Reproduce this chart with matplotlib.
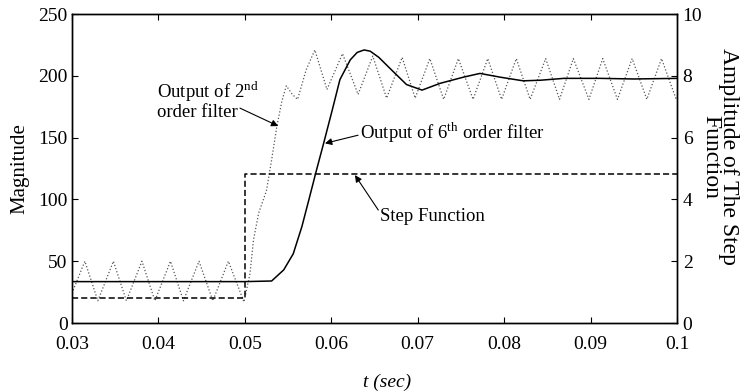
import matplotlib.pyplot as plt
import matplotlib

matplotlib.rcParams['font.family'] = 'Liberation Serif'
matplotlib.rcParams['mathtext.fontset'] = 'custom'
matplotlib.rcParams['mathtext.rm'] = 'Liberation Serif'
matplotlib.rcParams['font.size'] = 13.5

# output of 2nd order filter (dotted)
t2 = [0.0300, 0.0315, 0.0330, 0.0348, 0.0363, 0.0381, 0.0396, 0.0414, 0.0429,
      0.0447, 0.0463, 0.0481, 0.0499, 0.0506, 0.0510, 0.0516, 0.0520, 0.0525,
      0.0531, 0.0537, 0.0543, 0.0548, 0.0555, 0.0561, 0.0571, 0.0581, 0.0595,
      0.0613, 0.0631, 0.0648, 0.0664, 0.0682, 0.0697, 0.0714, 0.0730, 0.0747,
      0.0764, 0.0781, 0.0797, 0.0814, 0.0830, 0.0848, 0.0864, 0.0880, 0.0898,
      0.0914, 0.0931, 0.0948, 0.0965, 0.0982, 0.0999, 0.1000]
y2 = [24, 50, 18, 50, 18, 50, 18, 50, 18,
      50, 18, 50, 17, 40, 67, 89, 97, 107,
      132, 159, 180, 192, 185, 181, 205, 221, 189,
      218, 185, 216, 182, 215, 182, 214, 181, 214,
      181, 214, 181, 214, 181, 214, 181, 214, 181,
      214, 181, 214, 181, 214, 181, 182]

# output of 6th order filter (solid)
t6 = [0.0300, 0.0400, 0.0500, 0.0531, 0.0545, 0.0556, 0.0566, 0.0574, 0.0583,
      0.0591, 0.0601, 0.0610, 0.0622, 0.0630, 0.0638, 0.0645, 0.0655, 0.0668,
      0.0687, 0.0705, 0.0726, 0.0753, 0.0772, 0.0795, 0.0822, 0.0842, 0.0869,
      0.0911, 0.0950, 0.1000]
y6 = [33.5, 33.5, 33.5, 34, 43, 56, 78, 99.5, 124,
      145, 172, 197, 213, 219, 221, 220, 215, 206,
      193, 188.5, 194, 199, 202, 199, 196, 196.5, 198,
      198, 197.5, 198]

# step function (right axis)
t_step = [0.03, 0.05, 0.05, 0.1]
y_step = [0.8, 0.8, 4.82, 4.82]

xticks = [0.03, 0.04, 0.05, 0.06, 0.07, 0.08, 0.09, 0.1]
xticklabels = ['0.03', '0.04', '0.05', '0.06', '0.07', '0.08', '0.09', '0.1']

fig = plt.figure(figsize=(7.49, 3.92), dpi=100)
ax = fig.add_axes([0.096, 0.176, 0.808, 0.788])
ax2 = ax.twinx()

ax.plot(t2, y2, color='#555555', linestyle=':', linewidth=0.9)
ax.plot(t6, y6, color='black', linestyle='-', linewidth=1.1)
ax2.plot(t_step, y_step, color='black', linestyle=(0, (4, 2)), linewidth=1.1)

ax.set_xlim(0.03, 0.1)
ax.set_ylim(0, 250)
ax2.set_ylim(0, 10)
ax.set_xticks(xticks)
ax.set_xticklabels(xticklabels)
ax.set_yticks([0, 50, 100, 150, 200, 250])
ax2.set_yticks([0, 2, 4, 6, 8, 10])

ax.tick_params(direction='in', top=True, length=4, labelsize=14)
ax.tick_params(axis='x', pad=9)
ax.tick_params(axis='y', pad=3)
ax2.tick_params(direction='in', length=4, labelsize=14, pad=4)
for a in (ax, ax2):
    for s in a.spines.values():
        s.set_linewidth(1.0)

fig.text(20 / 749, 0.57, 'Magnitude', fontsize=15, rotation=90,
         ha='center', va='center')
fig.text(720 / 749, 0.60, 'Amplitude of The Step\nFunction', fontsize=17,
         rotation=-90, ha='center', va='center', linespacing=0.8)
fig.text(387 / 749, 10 / 392, 't (sec)', fontsize=14, style='italic',
         ha='center', va='center')

arrow = dict(arrowstyle='-|>', color='k', lw=0.8, mutation_scale=10,
             shrinkA=0, shrinkB=0)

# annotations
ax.text(0.0398, 180.7, 'Output of 2$^{\\rm nd}$\norder filter', ha='left',
        va='center', linespacing=1.0)
ax.annotate('', xy=(0.05387, 159.4), xytext=(0.04944, 173.9), arrowprops=arrow)

ax.text(0.06333, 153.7, 'Output of 6$^{\\rm th}$ order filter', ha='left',
        va='center')
ax.annotate('', xy=(0.05927, 145.4), xytext=(0.0631, 152), arrowprops=arrow)

ax.text(0.06564, 86, 'Step Function', ha='left', va='center')
ax.annotate('', xy=(0.06274, 119.7), xytext=(0.06544, 91.4), arrowprops=arrow)

fig.savefig('out.png', dpi=100)
